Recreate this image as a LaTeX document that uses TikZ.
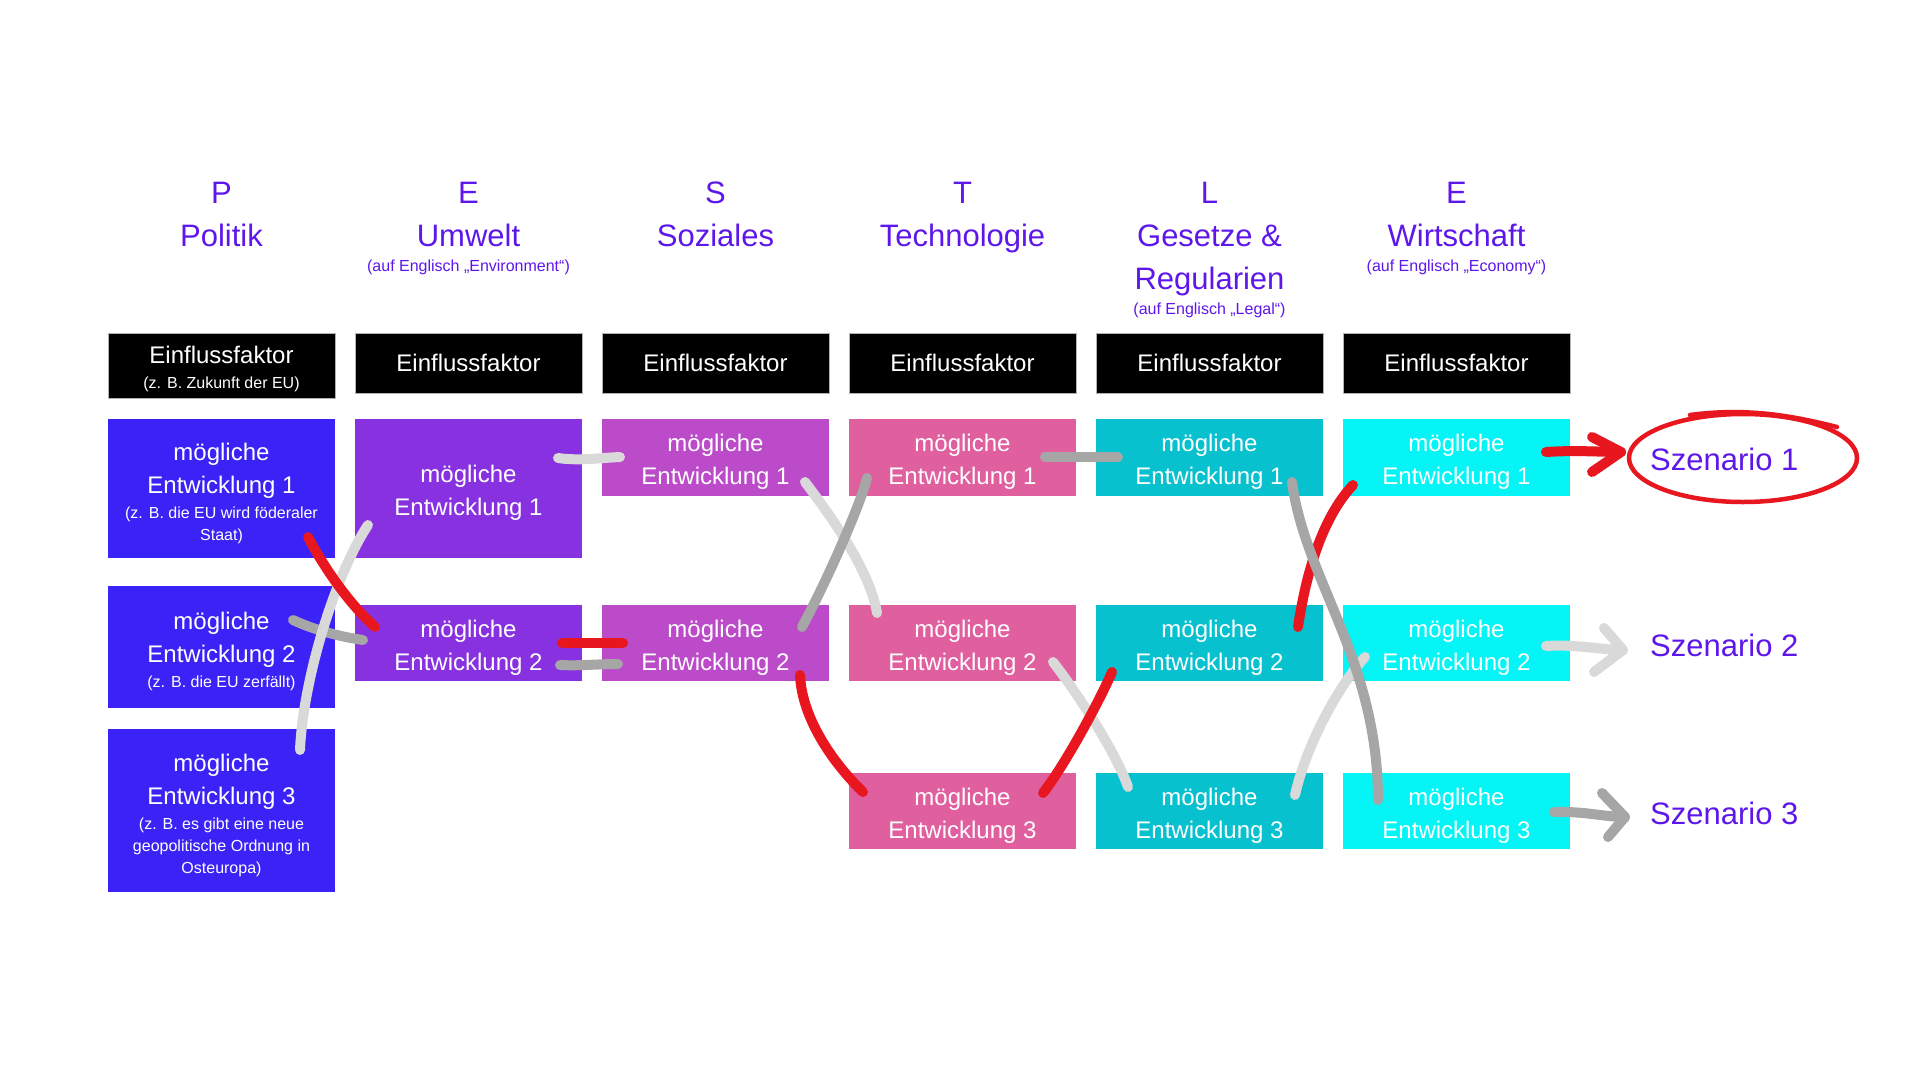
\documentclass[tikz,border=0pt]{standalone}
\usepackage{fontspec}
\setmainfont{Liberation Sans}
\usetikzlibrary{calc}
\definecolor{headc}{HTML}{5E17EB}
\definecolor{pcol}{HTML}{3B22F6}
\definecolor{ecol}{HTML}{8731E0}
\definecolor{scol}{HTML}{BB4BC8}
\definecolor{tcol}{HTML}{E05F9F}
\definecolor{lcol}{HTML}{07C1CF}
\definecolor{wcol}{HTML}{05F4F6}
\definecolor{redc}{HTML}{E8171F}
\definecolor{lgray}{HTML}{D9D9D9}
\definecolor{dgray}{HTML}{A6A6A6}
\newcommand{\subf}{\fontsize{16}{22}\selectfont}
\newcommand{\hsub}{\fontsize{16}{19}\selectfont}
\begin{document}
\begin{tikzpicture}[x=1pt,y=-1pt,
  devbox/.style={minimum width=227pt, inner sep=0pt},
  devtxt/.style={inner sep=0pt, align=center, text=white, font=\fontsize{24}{33}\selectfont},
  einbox/.style={minimum width=227pt, inner sep=0pt, align=center, text=white, fill=black, draw=gray!60, line width=1pt, font=\fontsize{24}{28}\selectfont},
  hdr/.style={anchor=north, align=center, text=headc, inner sep=0pt, font=\fontsize{31}{43}\selectfont},
  scen/.style={anchor=west, inner sep=0pt, text=headc, font=\fontsize{31}{36}\selectfont},
  conn/.style={line width=10pt, line cap=round, line join=round},
  lg/.style={conn, draw=lgray},
  dg/.style={conn, draw=dgray},
  rd/.style={conn, draw=redc}
]
\useasboundingbox[fill=white] (0,0) rectangle (1920,1080);

% headers
\node[hdr] (hp) at (221.5,182) {P\\Politik};
\node[hdr] (he) at (468.5,182) {E\\Umwelt\\[-18pt]\hsub (auf Englisch „Environment“)};
\node[hdr] (hs) at (715.5,182) {S\\Soziales};
\node[hdr] (ht) at (962.5,182) {T\\Technologie};
\node[hdr] (hl) at (1209.5,182) {L\\Gesetze \&\\Regularien\\[-18pt]\hsub (auf Englisch „Legal“)};
\node[hdr] (hw) at (1456.5,182) {E\\Wirtschaft\\[-18pt]\hsub (auf Englisch „Economy“)};

% Einflussfaktor
\node[einbox, minimum height=65pt] (p0) at (221.5,365.5) {};
\node[inner sep=0pt, align=center, text=white, font=\fontsize{24}{28}\selectfont] (p0t) at ($(p0.center)+(0,3.5)$) {Einflussfaktor\\[-3pt]\subf (z. B. Zukunft der EU)};
\node[einbox, minimum height=60pt] (e0) at (468.5,363) {Einflussfaktor};
\node[einbox, minimum height=60pt] (s0) at (715.5,363) {Einflussfaktor};
\node[einbox, minimum height=60pt] (t0) at (962.5,363) {Einflussfaktor};
\node[einbox, minimum height=60pt] (l0) at (1209.5,363) {Einflussfaktor};
\node[einbox, minimum height=60pt] (w0) at (1456.5,363) {Einflussfaktor};

% P column
\node[devbox, fill=pcol, minimum height=139pt] (p1) at (221.5,488.5) {};
\node[devtxt] (p1t) at ($(p1.center)+(0,4.5)$) {mögliche\\Entwicklung 1\\[-8pt]\subf (z. B. die EU wird föderaler\\[-11pt]\subf Staat)};
\node[devbox, fill=pcol, minimum height=122pt] (p2) at (221.5,647) {};
\node[devtxt] (p2t) at ($(p2.center)+(0,4.5)$) {mögliche\\Entwicklung 2\\[-8pt]\subf (z. B. die EU zerfällt)};
\node[devbox, fill=pcol, minimum height=163pt] (p3) at (221.5,810.5) {};
\node[devtxt] (p3t) at ($(p3.center)+(0,4.5)$) {mögliche\\Entwicklung 3\\[-8pt]\subf (z. B. es gibt eine neue\\[-11pt]\subf geopolitische Ordnung in\\[-11pt]\subf Osteuropa)};
% E column
\node[devbox, fill=ecol, minimum height=139pt] (e1) at (468.5,488.5) {};
\node[devtxt] (e1t) at ($(e1.center)+(0,4.5)$) {mögliche\\Entwicklung 1};
\node[devbox, fill=ecol, minimum height=76pt] (e2) at (468.5,643) {};
\node[devtxt] (e2t) at ($(e2.center)+(0,4.5)$) {mögliche\\Entwicklung 2};
% S column
\node[devbox, fill=scol, minimum height=77pt] (s1) at (715.5,457.5) {};
\node[devtxt] (s1t) at ($(s1.center)+(0,4.5)$) {mögliche\\Entwicklung 1};
\node[devbox, fill=scol, minimum height=76pt] (s2) at (715.5,643) {};
\node[devtxt] (s2t) at ($(s2.center)+(0,4.5)$) {mögliche\\Entwicklung 2};
% T column
\node[devbox, fill=tcol, minimum height=77pt] (t1) at (962.5,457.5) {};
\node[devtxt] (t1t) at ($(t1.center)+(0,4.5)$) {mögliche\\Entwicklung 1};
\node[devbox, fill=tcol, minimum height=76pt] (t2) at (962.5,643) {};
\node[devtxt] (t2t) at ($(t2.center)+(0,4.5)$) {mögliche\\Entwicklung 2};
\node[devbox, fill=tcol, minimum height=76pt] (t3) at (962.5,811) {};
\node[devtxt] (t3t) at ($(t3.center)+(0,4.5)$) {mögliche\\Entwicklung 3};
% L column
\node[devbox, fill=lcol, minimum height=77pt] (l1) at (1209.5,457.5) {};
\node[devtxt] (l1t) at ($(l1.center)+(0,4.5)$) {mögliche\\Entwicklung 1};
\node[devbox, fill=lcol, minimum height=76pt] (l2) at (1209.5,643) {};
\node[devtxt] (l2t) at ($(l2.center)+(0,4.5)$) {mögliche\\Entwicklung 2};
\node[devbox, fill=lcol, minimum height=76pt] (l3) at (1209.5,811) {};
\node[devtxt] (l3t) at ($(l3.center)+(0,4.5)$) {mögliche\\Entwicklung 3};
% W column
\node[devbox, fill=wcol, minimum height=77pt] (w1) at (1456.5,457.5) {};
\node[devtxt] (w1t) at ($(w1.center)+(0,4.5)$) {mögliche\\Entwicklung 1};
\node[devbox, fill=wcol, minimum height=76pt] (w2) at (1456.5,643) {};
\node[devtxt] (w2t) at ($(w2.center)+(0,4.5)$) {mögliche\\Entwicklung 2};
\node[devbox, fill=wcol, minimum height=76pt] (w3) at (1456.5,811) {};
\node[devtxt] (w3t) at ($(w3.center)+(0,4.5)$) {mögliche\\Entwicklung 3};

% Szenarios
\node[scen] (sz1) at (1650,459) {Szenario 1};
\node[scen] (sz2) at (1650,645) {Szenario 2};
\node[scen] (sz3) at (1650,813) {Szenario 3};

% connectors: P -> E
\draw[dg] ($(p2.center)+(71.5,-27)$) .. controls +(17,8) and +(-28,-4) .. ($(e2.center)+(-105.5,-3)$);
\draw[lg] ($(p3.center)+(78.5,-60.5)$) .. controls +(3,-70) and +(-33,50) .. ($(e1.center)+(-100.5,36.5)$);
\draw[rd] ($(p1.center)+(86.5,48.5)$) .. controls +(12,23) and +(-30,-27) .. ($(e2.center)+(-93.5,-16)$);
% E -> S
\draw[lg] ($(e1.center)+(89.5,-30.5)$) .. controls +(20,3) and +(-20,1) .. ($(s1.center)+(-95.5,-0.5)$);
\draw[rd] ($(e2.center)+(93.5,0)$) -- ($(s2.center)+(-92.5,0)$);
\draw[dg] ($(e2.center)+(91.5,22)$) .. controls +(20,1) and +(-20,0) .. ($(s2.center)+(-97.5,21)$);
% S -> T
\draw[lg] ($(s1.center)+(89.5,24.5)$) .. controls +(25,33) and +(-7,-43) .. ($(t2.center)+(-85.5,-30)$);
\draw[dg] ($(s2.center)+(86.5,-16)$) .. controls +(28,-52) and +(-5,22) .. ($(t1.center)+(-95.5,20.5)$);
\draw[rd] ($(s2.center)+(84.5,32)$) .. controls +(2,45) and +(-28,-27) .. ($(t3.center)+(-99.5,-19)$);
% T -> L
\draw[dg] ($(t1.center)+(82.5,-0.5)$) -- ($(l1.center)+(-91.5,-0.5)$);
\draw[lg] ($(t2.center)+(90.5,19)$) .. controls +(22,28) and +(-13,-37) .. ($(l3.center)+(-81.5,-24)$);
\draw[rd] ($(t3.center)+(80.5,-18)$) .. controls +(22,-28) and +(-12,28) .. ($(l2.center)+(-97.5,29)$);
% L -> W
\draw[lg] ($(l3.center)+(85.5,-16)$) .. controls +(10,-45) and +(-30,33) .. ($(w2.center)+(-91.5,14)$);
\draw[rd] ($(l2.center)+(88.5,-16)$) .. controls +(7,-47) and +(-33,35) .. ($(w1.center)+(-103.5,27.5)$);
\draw[dg] ($(l1.center)+(82.5,24.5)$) .. controls +(13,98) and +(0,-140) .. ($(w3.center)+(-78.5,-11)$);

% arrows to scenarios
\draw[rd] ($(w1.center)+(89.5,-5.5)$) .. controls +(30,-2) and +(-20,0) .. ($(sz1.west)+(-29,-7)$);
\draw[rd] ($(sz1.west)+(-58,-22)$) -- ($(sz1.west)+(-29,-7)$) -- ($(sz1.west)+(-58,13)$);
\draw[lg] ($(w2.center)+(89.5,3)$) .. controls +(30,-2) and +(-20,0) .. ($(sz2.west)+(-27,5)$);
\draw[lg] ($(sz2.west)+(-46,-17)$) -- ($(sz2.west)+(-27,5)$) -- ($(sz2.west)+(-56,27)$);
\draw[dg] ($(w3.center)+(97.5,1)$) .. controls +(30,-1) and +(-20,0) .. ($(sz3.west)+(-25,4)$);
\draw[dg] ($(sz3.west)+(-48,-20)$) -- ($(sz3.west)+(-25,4)$) -- ($(sz3.west)+(-42,24)$);

% hand-drawn circle around Szenario 1
\draw[redc, line width=4.5pt] ($(sz1.west)+(93,-1)$) ellipse [x radius=114, y radius=44];
\draw[redc, line width=4.5pt, line cap=round] ($(sz1.west)+(40,-44)$) .. controls +(60,-8) and +(-40,-10) .. ($(sz1.west)+(187,-32)$);
\end{tikzpicture}
\end{document}
